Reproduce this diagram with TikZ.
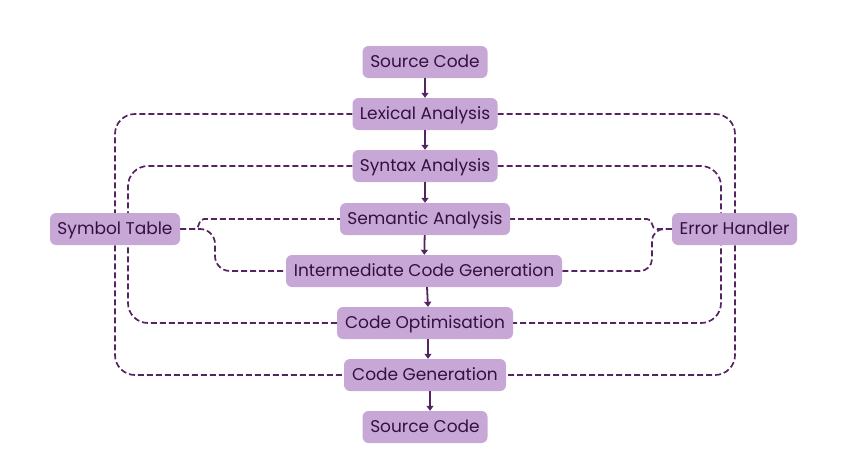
\documentclass[tikz,border=0pt]{standalone}
\usepackage{fontspec}
\setmainfont{Poppins}
\usetikzlibrary{arrows.meta,backgrounds}
\definecolor{boxfill}{HTML}{C7A7D6}
\definecolor{boxtext}{HTML}{35103F}
\definecolor{linecol}{HTML}{532460}
\tikzset{
  stage/.style={fill=boxfill, rounded corners=6pt, text=boxtext, minimum height=32pt,
    inner sep=0pt, text height=13pt, text depth=3pt, font=\fontsize{17}{19}\selectfont},
  flow/.style={draw=linecol, line width=1.8pt, -{Triangle[length=5pt,width=7pt]}},
  loop/.style={draw=linecol, line width=1.7pt, dash pattern=on 6pt off 3pt, rounded corners=20pt},
  link/.style={draw=linecol, line width=1.7pt, dash pattern=on 6pt off 3pt},
}
\begin{document}
\begin{tikzpicture}[x=1pt,y=-1pt]
\useasboundingbox (0,0) rectangle (850,450);
\node[stage, minimum width=125pt] (src) at (425,62) {Source Code};
\node[stage, minimum width=145pt] (lex) at (425,114) {Lexical Analysis};
\node[stage, minimum width=145pt] (syn) at (425,166) {Syntax Analysis};
\node[stage, minimum width=170pt] (sem) at (425,219) {Semantic Analysis};
\node[stage, minimum width=276pt] (icg) at (424,271) {Intermediate Code Generation};
\node[stage, minimum width=176pt] (opt) at (425,323) {Code Optimisation};
\node[stage, minimum width=162pt] (gen) at (425,375) {Code Generation};
\node[stage, minimum width=125pt] (out) at (425,427) {Source Code};
\node[stage, minimum width=130pt] (sym) at (115,229) {Symbol Table};
\node[stage, minimum width=125pt] (err) at (734.5,229) {Error Handler};
\draw[flow] (src) -- (lex);
\draw[flow] (lex) -- (syn);
\draw[flow] (syn) -- (sem);
\draw[flow] (sem) -- (icg);
\draw[flow] ([xshift=3pt]icg.south) -- ([xshift=3pt]opt.north);
\draw[flow] ([xshift=3pt]opt.south) -- ([xshift=3pt]gen.north);
\draw[flow] ([xshift=5pt]gen.south) -- ([xshift=5pt]out.north);
\begin{pgfonlayer}{background}
\draw[loop] (lex.west) -- (115,114) -- (115,375) -- (gen.west);
\draw[loop] (lex.east) -- (735,114) -- (735,375) -- (gen.east);
\draw[loop] (syn.west) -- (128,166) -- (128,323) -- (opt.west);
\draw[loop] (syn.east) -- (721,166) -- (721,323) -- (opt.east);
\draw[link, rounded corners=5pt] (sym.east) -- (199,229) -- (199,219) -- (sem.west);
\draw[link, rounded corners=15pt] (sym.east) -- (215,229) -- (215,271) -- (icg.west);
\draw[link, rounded corners=5pt] (err.west) -- (652,229) -- (652,219) -- (sem.east);
\draw[link, rounded corners=12pt] (err.west) -- (652,229) -- (652,271) -- (icg.east);
\end{pgfonlayer}
\end{tikzpicture}
\end{document}
